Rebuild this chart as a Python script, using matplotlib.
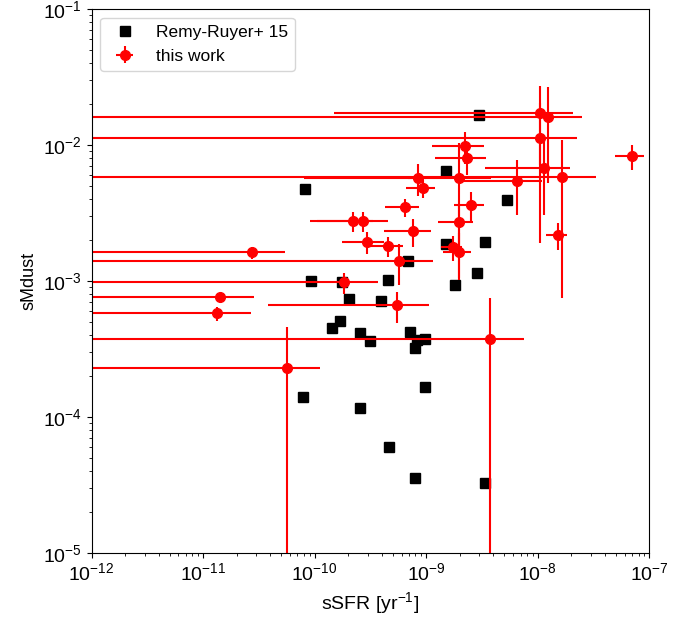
import matplotlib
matplotlib.use('Agg')
import matplotlib.pyplot as plt

plt.rcParams['font.family'] = ['Liberation Sans', 'DejaVu Sans']
plt.rcParams['mathtext.fontset'] = 'custom'
plt.rcParams['mathtext.rm'] = 'Liberation Sans'
plt.rcParams['mathtext.it'] = 'Liberation Sans:italic'
plt.rcParams['mathtext.bf'] = 'Liberation Sans:bold'

# --- Remy-Ruyer+ 15 ---
rr_ssfr = [8.27e-11, 9.26e-11, 1.75e-10, 2.03e-10, 4.54e-10, 3.97e-10, 6.90e-10,
           1.69e-10, 1.43e-10, 2.55e-10, 3.13e-10, 7.15e-10, 7.95e-10, 8.25e-10,
           9.70e-10, 9.70e-10, 2.55e-10, 4.63e-10, 7.87e-10, 3.39e-9, 7.85e-11,
           2.98e-9, 1.50e-9, 5.32e-9, 1.50e-9, 3.36e-9, 2.86e-9, 1.81e-9]
rr_smdust = [4.78e-3, 9.97e-4, 9.80e-4, 7.41e-4, 1.026e-3, 7.13e-4, 1.41e-3,
             5.09e-4, 4.55e-4, 4.13e-4, 3.62e-4, 4.25e-4, 3.24e-4, 3.67e-4,
             3.77e-4, 1.654e-4, 1.173e-4, 5.98e-5, 3.54e-5, 3.29e-5, 1.404e-4,
             1.66e-2, 6.46e-3, 3.98e-3, 1.866e-3, 1.94e-3, 1.147e-3, 9.31e-4]

# --- this work ---
ssfr = [1.045e-8, 1.232e-8, 1.045e-8, 2.22e-9, 2.32e-9, 6.97e-8, 1.135e-8, 1.66e-8,
        8.43e-10, 1.96e-9, 6.50e-9, 9.33e-10, 2.51e-9, 6.44e-10, 2.20e-10, 2.71e-10,
        1.96e-9, 7.60e-10, 1.51e-8, 2.94e-10, 4.54e-10, 1.73e-9, 1.96e-9, 2.74e-11,
        5.69e-10, 1.83e-10, 1.42e-11, 5.46e-10, 1.33e-11, 3.72e-9, 5.6e-11]
ssfr_err = [1.03e-8, 1.25e-8, 1.2e-8, 1.09e-9, 1.12e-9, 2.0e-8, 8.0e-9, 1.68e-8,
            1.5e-10, 1.88e-9, 4.4e-9, 2.75e-10, 7.5e-10, 2.2e-10, 1.15e-10, 1.8e-10,
            6.8e-10, 3.4e-10, 3.2e-9, 1.2e-10, 1.62e-10, 3.7e-10, 5.5e-10, 2.7e-11,
            5.8e-10, 1.86e-10, 1.44e-11, 5.08e-10, 1.36e-11, 3.75e-9, 5.55e-11]
smdust = [1.72e-2, 1.60e-2, 1.12e-2, 9.82e-3, 8.01e-3, 8.28e-3, 6.76e-3, 5.80e-3,
          5.71e-3, 5.71e-3, 5.43e-3, 4.82e-3, 3.61e-3, 3.49e-3, 2.75e-3, 2.75e-3,
          2.71e-3, 2.32e-3, 2.17e-3, 1.93e-3, 1.80e-3, 1.77e-3, 1.63e-3, 1.63e-3,
          1.40e-3, 9.80e-4, 7.60e-4, 6.64e-4, 5.79e-4, 3.73e-4, 2.28e-4]
smdust_err = [1.0e-2, 1.07e-2, 9.3e-3, 2.6e-3, 2.0e-3, 1.72e-3, 3.7e-3, 5.05e-3,
              1.5e-3, 4.65e-3, 2.37e-3, 7.3e-4, 9e-4, 5.2e-4, 4.5e-4, 4.5e-4,
              1.0e-3, 5.5e-4, 4.9e-4, 3.6e-4, 3.0e-4, 3.6e-4, 6.2e-4, 1.65e-4,
              4.6e-4, 1.75e-4, 5e-5, 1.7e-4, 6.8e-5, 3.75e-4, 2.3e-4]

fig = plt.figure(figsize=(6.99, 6.17), dpi=100)
ax = fig.add_axes([0.131, 0.104, 0.798, 0.881])

ax.plot(rr_ssfr, rr_smdust, 's', color='k', markersize=7, label='Remy-Ruyer+ 15')
ax.errorbar(ssfr, smdust, xerr=ssfr_err, yerr=smdust_err, fmt='o', color='red',
            ecolor='red', markersize=7, elinewidth=1.5, capsize=0, label='this work')

ax.set_xscale('log')
ax.set_yscale('log')
ax.set_xlim(1e-12, 1e-7)
ax.set_ylim(1e-5, 1e-1)
ax.set_xlabel('sSFR [yr$^{-1}$]', fontsize=14)
ax.set_ylabel('sMdust', fontsize=13)
ax.tick_params(labelsize=14)
ax.legend(loc='upper left', fontsize=12.5)

fig.savefig('out.png', dpi=100)
